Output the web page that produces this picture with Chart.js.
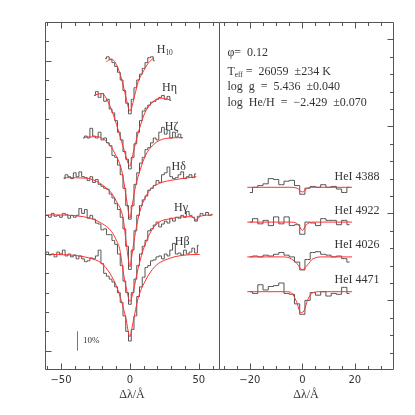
<!DOCTYPE html>
<html lang="en">
<head>
  <meta charset="UTF-8">
  <title>Balmer and He I line fit</title>
  <script src="https://cdn.jsdelivr.net/npm/chart.js"></script>
  <style>
    body { margin: 0; background: white; }
    #wrap { position: relative; width: 415px; height: 415px; }
    .panel { position: absolute; top: 0; }
    #left { left: 0; }
    #right { left: 210px; }
  </style>
</head>
<body>
  <div id="wrap">
    <div class="panel" id="left"><canvas id="balmerChart" width="230" height="415"></canvas></div>
    <div class="panel" id="right"><canvas id="heliumChart" width="205" height="415"></canvas></div>
  </div>

  <script>
    // ---- Balmer lines (left panel), normalised flux, shifted by offset ----
    const balmerLabels = ['H10', 'Hη', 'Hζ', 'Hδ', 'Hγ', 'Hβ'];
    const balmerOffsets = [1.6, 1.4, 1.2, 1.0, 0.8, 0.6];
    const balmerObsStart = [-18, -26, -34, -48, -60, -62];
    const OBS_STEP = 2;

    const h10Obs = [1.01, 1.02, 1.005, 0.99, 0.97, 0.94, 0.9, 0.845, 0.78, 0.725, 0.8, 0.86, 0.9, 0.93, 0.96, 0.99, 1.015, 1.02, 1.0];
    const hEtaObs = [1.02, 1.04, 1.01, 1.03, 0.99, 1.0, 0.95, 0.93, 0.89, 0.83, 0.79, 0.73, 0.69, 0.64, 0.70, 0.77, 0.83, 0.89, 0.94, 0.955, 0.97, 0.985, 0.99, 1.0, 1.01, 1.02, 1.0, 1.015, 0.995];
    const hZetaObs = [1.0, 1.01, 1.0, 1.05, 1.01, 1.0, 1.03, 0.99, 1.0, 0.975, 0.96, 0.91, 0.9, 0.86, 0.81, 0.74, 0.65, 0.58, 0.65, 0.76, 0.82, 0.87, 0.9, 0.94, 0.95, 0.975, 1.0, 0.99, 1.03, 1.055, 1.02, 1.04, 1.0, 1.03, 1.005, 1.02, 1.0];
    const hDeltaObs = [0.99, 1.01, 1.0, 0.99, 1.02, 1.0, 1.025, 1.0, 0.995, 0.98, 1.0, 0.97, 0.985, 0.96, 0.95, 0.94, 0.935, 0.91, 0.89, 0.86, 0.83, 0.79, 0.73, 0.64, 0.52, 0.62, 0.72, 0.8, 0.85, 0.88, 0.9, 0.93, 0.94, 0.955, 0.98, 0.97, 1.01, 1.02, 1.05, 1.0, 0.99, 0.995, 1.01, 1.025, 0.99, 1.0, 1.01, 0.995, 1.015];
    const hGammaObs = [1.0, 0.99, 1.01, 0.995, 1.0, 0.99, 1.01, 1.005, 0.985, 1.0, 0.99, 1.0, 1.035, 1.01, 1.03, 0.985, 1.0, 0.98, 0.96, 0.955, 0.925, 0.93, 0.9, 0.9, 0.87, 0.85, 0.8, 0.74, 0.66, 0.6, 0.54, 0.6, 0.67, 0.74, 0.8, 0.84, 0.87, 0.92, 0.93, 0.95, 0.965, 0.94, 0.955, 0.97, 0.96, 0.985, 0.97, 0.99, 0.985, 1.0, 0.99, 1.02, 1.0, 0.99, 0.97, 0.995, 1.01, 1.0, 1.015, 1.0, 1.005];
    const hBetaObs = [1.0, 1.01, 0.995, 1.0, 0.985, 1.01, 1.0, 1.02, 0.99, 1.0, 0.985, 0.995, 0.975, 0.99, 0.975, 0.96, 0.965, 0.98, 0.975, 0.99, 1.02, 0.95, 0.9, 0.885, 0.87, 0.855, 0.83, 0.8, 0.75, 0.68, 0.6, 0.55, 0.61, 0.68, 0.78, 0.83, 0.88, 0.93, 0.94, 0.965, 0.97, 0.985, 0.99, 0.975, 1.0, 0.99, 1.02, 1.055, 1.0, 1.005, 0.995, 1.02, 1.0, 1.01, 1.03, 1.005, 1.045];

    // model fits: [delta lambda, normalised flux]
    const h10Model = [[-17, 0.995], [-13.5, 1.009], [-8.5, 0.96], [-4.9, 0.874], [-2.4, 0.797], [0, 0.74], [3.6, 0.823], [6, 0.891], [9.7, 0.943], [13.3, 0.987], [16.9, 1.012]];
    const hEtaModel = [[-25.4, 1.023], [-20.5, 1.03], [-13.3, 0.945], [-8.5, 0.842], [-4.9, 0.755], [-1.2, 0.669], [0, 0.655], [2.4, 0.723], [6, 0.825], [10.9, 0.93], [16.9, 0.988], [23, 1.006], [29, 0.997]];
    const hZetaModel = [[-32.6, 1.004], [-24, 1.007], [-15.7, 0.973], [-10.9, 0.921], [-6, 0.834], [-4, 0.757], [-2, 0.664], [0, 0.586], [2, 0.664], [4, 0.747], [6, 0.8], [10.9, 0.903], [16.9, 0.964], [26.6, 0.998], [38.6, 1.002]];
    const hDeltaModel = [[-48, 0.995], [-31.4, 0.992], [-21.7, 0.966], [-16.9, 0.94], [-14.5, 0.925], [-9.6, 0.871], [-4.9, 0.785], [-2.9, 0.673], [-1.5, 0.595], [0, 0.534], [1.5, 0.595], [2.9, 0.662], [4, 0.71], [7.2, 0.819], [14.5, 0.931], [21.7, 0.966], [31.4, 0.983], [48.3, 1.0]];
    const hGammaModel = [[-61.6, 1.0], [-58, 1.002], [-33.8, 0.993], [-20.5, 0.959], [-13.3, 0.916], [-9.6, 0.868], [-7.2, 0.82], [-4.9, 0.71], [-2, 0.605], [0, 0.554], [2.4, 0.605], [6, 0.726], [10.9, 0.847], [18, 0.945], [31.4, 0.985], [45, 0.993], [48, 0.975], [51, 0.995], [60, 1.002]];
    const hBetaModel = [[-61.6, 0.998], [-43.5, 0.995], [-29, 0.978], [-20.5, 0.952], [-14.5, 0.9], [-9.6, 0.831], [-6, 0.753], [-2.9, 0.667], [0, 0.572], [2.4, 0.65], [6, 0.771], [10.9, 0.857], [18, 0.934], [29, 0.978], [41, 0.995], [50.7, 0.998]];

    const balmerObs = [h10Obs, hEtaObs, hZetaObs, hDeltaObs, hGammaObs, hBetaObs];
    const balmerModels = [h10Model, hEtaModel, hZetaModel, hDeltaModel, hGammaModel, hBetaModel];

    // ---- He I lines (right panel) ----
    const heLabels = ['HeI 4388', 'HeI 4922', 'HeI 4026', 'HeI 4471'];
    const heOffsets = [1.05, 0.85, 0.65, 0.45];
    const HE_START = -20;
    const he4388Obs = [0.97, 1.0, 1.01, 1.02, 1.05, 1.045, 1.015, 1.035, 1.04, 1.01, 0.96, 0.995, 1.005, 1.0, 1.015, 1.0, 1.005, 0.99, 0.97, 1.0];
    const he4922Obs = [1.0, 1.02, 0.99, 1.01, 0.98, 1.03, 0.99, 1.03, 0.98, 0.985, 0.93, 1.0, 0.995, 0.98, 1.02, 1.01, 1.01, 0.985, 1.01, 0.985];
    const he4026Obs = [1.0, 1.005, 1.0, 1.01, 1.005, 1.015, 1.025, 1.01, 1.0, 0.97, 0.925, 0.985, 1.025, 1.03, 1.015, 1.01, 1.0, 1.005, 0.99, 0.97];
    const he4471Obs = [1.0, 0.99, 1.04, 1.01, 1.03, 1.035, 1.05, 0.99, 0.985, 0.93, 0.87, 0.95, 0.995, 0.98, 1.0, 0.975, 0.99, 0.985, 1.025, 0.99];
    const he4388Model = [[-21, 1.0], [-5, 1.0], [-2, 0.995], [0, 0.973], [2, 0.995], [5, 1.0], [19, 1.0]];
    const he4922Model = [[-21, 1.0], [-4, 1.0], [-1.5, 0.985], [0, 0.952], [1.5, 0.985], [4, 1.0], [19, 1.0]];
    const he4026Model = [[-21, 1.0], [-8, 1.0], [-4.9, 0.994], [-2.3, 0.966], [0, 0.927], [2.1, 0.956], [4, 0.989], [8, 1.0], [19, 1.0]];
    const he4471Model = [[-21, 1.0], [-6, 1.0], [-4.2, 0.994], [-2.3, 0.946], [-0.6, 0.88], [0.6, 0.889], [2.1, 0.956], [4, 0.994], [7, 1.0], [19, 1.0]];
    const heObs = [he4388Obs, he4922Obs, he4026Obs, he4471Obs];
    const heModels = [he4388Model, he4922Model, he4026Model, he4471Model];

    const fitText = ['φ=  0.12', 'T|eff| =  26059  ±234 K', 'log  g  =  5.436  ±0.040', 'log  He/H  =  −2.429  ±0.070'];
    const scaleBar = [{ x: -38, y: 0.1 }, { x: -38, y: 0.2 }];

    // ticks
    const leftXTicks = [-60, -50, -40, -30, -20, -10, 0, 10, 20, 30, 40, 50, 60];
    const leftXLabels = [[-50, '−50'], [0, '0'], [50, '50']];
    const rightXTicks = [-30, -25, -20, -15, -10, -5, 0, 5, 10, 15, 20, 25, 30];
    const rightXLabels = [[-20, '−20'], [0, '0'], [20, '20']];
    const leftYTicks = [0.1, 0.2, 0.3, 0.4, 0.5, 0.6, 0.7, 0.8, 0.9, 1.0, 1.1, 1.2, 1.3, 1.4, 1.5, 1.6, 1.7];
    const leftYMajor = [0.1, 0.6, 1.1, 1.6];
    const rightYTicks = [0.1, 0.2, 0.3, 0.4, 0.5, 0.6, 0.7, 0.8, 0.9, 1.0, 1.1, 1.2, 1.3, 1.4, 1.5, 1.6, 1.7, 1.8, 1.9];
    const rightYMajor = [0.4, 0.9, 1.4, 1.9];

    const OBS_COLOR = '#555';
    const MODEL_COLOR = '#ff3030';
    const INK = '#333';

    const obsPoints = (values, start, offset) => values.map((f, i) => ({ x: start + i * OBS_STEP, y: f - 1 + offset }));
    const modelPoints = (pairs, offset) => pairs.map(p => ({ x: p[0], y: p[1] - 1 + offset }));

    const obsSet = data => ({ data, borderColor: OBS_COLOR, borderWidth: 1, stepped: 'middle', pointRadius: 0, order: 2 });
    const modelSet = data => ({ data, borderColor: MODEL_COLOR, borderWidth: 1, cubicInterpolationMode: 'monotone', pointRadius: 0, order: 1 });

    function drawSubText(ctx, text, x, y, size, family) {
      // "A|sub|rest" -> subscript between bars
      const parts = text.split('|');
      let cx = x;
      parts.forEach((part, i) => {
        const sub = i % 2 === 1;
        ctx.font = (sub ? size * 0.62 : size) + 'px ' + family;
        ctx.fillText(part, cx, sub ? y + size * 0.3 : y);
        cx += ctx.measureText(part).width;
      });
    }

    const axisFrame = {
      id: 'axisFrame',
      afterDraw(chart, args, o) {
        const { ctx, chartArea: a } = chart;
        const x = chart.scales.x, y = chart.scales.y;
        const L = Math.round(a.left) + 0.5, R = Math.round(a.right) + 0.5;
        const T = Math.round(a.top) + 0.5, B = Math.round(a.bottom) - 0.5;
        ctx.save();
        ctx.strokeStyle = '#555';
        ctx.lineWidth = 1;
        ctx.beginPath();
        ctx.moveTo(L, T); ctx.lineTo(R, T);
        ctx.moveTo(L, B); ctx.lineTo(R, B);
        if (o.ySide === 'left') { ctx.moveTo(L, T); ctx.lineTo(L, B); }
        else { ctx.moveTo(L, T); ctx.lineTo(L, B); ctx.moveTo(R, T); ctx.lineTo(R, B); }
        o.xTicks.forEach(v => {
          const px = Math.round(x.getPixelForValue(v)) + 0.5;
          const len = o.xLabels.some(l => l[0] === v) ? 6 : 3.5;
          ctx.moveTo(px, B); ctx.lineTo(px, B - len);
          ctx.moveTo(px, T); ctx.lineTo(px, T + len);
        });
        o.yTicks.forEach(v => {
          const py = Math.round(y.getPixelForValue(v)) + 0.5;
          const len = o.yMajor.includes(v) ? 6 : 3.5;
          if (o.ySide === 'left') { ctx.moveTo(L, py); ctx.lineTo(L + len, py); }
          else { ctx.moveTo(R, py); ctx.lineTo(R - len, py); }
        });
        ctx.stroke();

        ctx.fillStyle = INK;
        ctx.textAlign = 'center';
        ctx.textBaseline = 'middle';
        ctx.font = '10px "DejaVu Sans"';
        o.xLabels.forEach(([v, t]) => ctx.fillText(t, x.getPixelForValue(v), a.bottom + 10));
        ctx.font = '12px "Liberation Serif"';
        ctx.fillText('Δλ/Å', (a.left + a.right) / 2, a.bottom + 25);

        ctx.textAlign = 'left';
        o.texts.forEach(t => drawSubText(ctx, t.text, x.getPixelForValue(t.x), y.getPixelForValue(t.y), t.size, '"Liberation Serif"'));
        ctx.restore();
      }
    };

    // ---- left chart ----
    const balmerSets = [];
    balmerObs.forEach((vals, i) => balmerSets.push(obsSet(obsPoints(vals, balmerObsStart[i], balmerOffsets[i]))));
    balmerModels.forEach((pairs, i) => balmerSets.push(modelSet(modelPoints(pairs, balmerOffsets[i]))));
    balmerSets.push({ data: scaleBar, borderColor: '#777', borderWidth: 1, pointRadius: 0, order: 3 });

    const balmerLabelPos = [[19.5, 1.656], [23.4, 1.457], [25.4, 1.259], [30.2, 1.052], [32.1, 0.84], [32.6, 0.664]];
    const balmerTexts = balmerLabels.map((l, i) => ({
      text: l === 'H10' ? 'H|10|' : l, x: balmerLabelPos[i][0], y: balmerLabelPos[i][1], size: 12
    }));
    balmerTexts.push({ text: '10%', x: -34, y: 0.15, size: 9 });

    new Chart(document.getElementById('balmerChart'), {
      type: 'line',
      data: { datasets: balmerSets },
      options: {
        responsive: false,
        animation: false,
        layout: { padding: { left: 45, top: 22, right: 11, bottom: 45 } },
        scales: {
          x: { type: 'linear', min: -61.6, max: 64.7, display: false },
          y: { min: 0, max: 1.8, display: false }
        },
        plugins: {
          legend: { display: false },
          tooltip: { enabled: false },
          axisFrame: { xTicks: leftXTicks, xLabels: leftXLabels, yTicks: leftYTicks, yMajor: leftYMajor, ySide: 'left', texts: balmerTexts }
        }
      },
      plugins: [axisFrame]
    });

    // ---- right chart ----
    const heSets = [];
    heObs.forEach((vals, i) => heSets.push(obsSet(obsPoints(vals, HE_START, heOffsets[i]))));
    heModels.forEach((pairs, i) => heSets.push(modelSet(modelPoints(pairs, heOffsets[i]))));

    const heLabelPos = [[12.3, 1.112], [12.3, 0.913], [12.3, 0.717], [12.3, 0.516]];
    const heTexts = heLabels.map((l, i) => ({ text: l, x: heLabelPos[i][0], y: heLabelPos[i][1], size: 12 }));
    const fitTextY = [1.82, 1.714, 1.625, 1.536];
    fitText.forEach((t, i) => heTexts.push({ text: t, x: -28.6, y: fitTextY[i], size: 12 }));

    new Chart(document.getElementById('heliumChart'), {
      type: 'line',
      data: { datasets: heSets },
      options: {
        responsive: false,
        animation: false,
        layout: { padding: { left: 9, top: 22, right: 22, bottom: 45 } },
        scales: {
          x: { type: 'linear', min: -31.8, max: 34.6, display: false },
          y: { min: 0, max: 2.0, display: false }
        },
        plugins: {
          legend: { display: false },
          tooltip: { enabled: false },
          axisFrame: { xTicks: rightXTicks, xLabels: rightXLabels, yTicks: rightYTicks, yMajor: rightYMajor, ySide: 'right', texts: heTexts }
        }
      },
      plugins: [axisFrame]
    });
  </script>
</body>
</html>
